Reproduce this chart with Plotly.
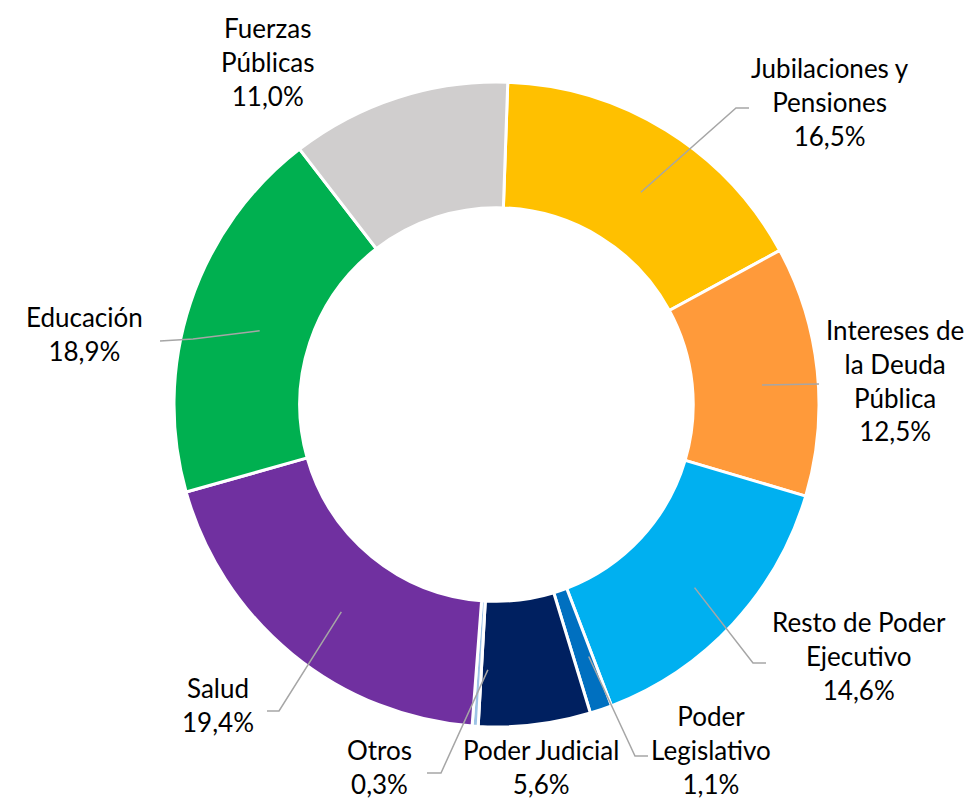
import math
import plotly.graph_objects as go

# ---- data ----
categories = ["Jubilaciones y Pensiones", "Intereses de la Deuda Pública",
              "Resto de Poder Ejecutivo", "Poder Legislativo", "Poder Judicial",
              "Otros", "Salud", "Educación", "Fuerzas Públicas"]
values = [16.5, 12.5, 14.6, 1.1, 5.6, 0.3, 19.4, 18.9, 11.0]
label_text = ["Jubilaciones y<br>Pensiones", "Intereses de<br>la Deuda<br>Pública",
              "Resto de Poder<br>Ejecutivo", "Poder<br>Legislativo", "Poder Judicial",
              "Otros", "Salud", "Educación", "Fuerzas<br>Públicas"]
colors = ["#FFC000", "#FF9A3A", "#00B0F0", "#0070C0", "#002060",
          "#9DC3E6", "#7030A0", "#00B050", "#D0CECE"]

# ---- layout geometry (pixels) ----
W, H = 977, 798
CX, CY, R = 497, 404, 321          # desired drawn centre / radius
DCX, DCY, DR = 488.5, 396.5, 322.5 # domain box that plotly renders at CX, CY, R
HOLE = 0.61
ROT = 2
FONT = dict(family="Lato", size=26, color="black")
TEXT_DY = -8                       # plotly multi-line text offset fixes
TEXT_DX = -7

# label placement: (text centre x, text centre y, elbow (x,y) or None, end (x,y) or None)
label_pos = [
    (829, 102, (728, 100), (741, 100)),
    (894, 380, None, (811, 376)),
    (858, 656, (745, 655), (758, 655)),
    (710, 750, (627, 748), (640, 748)),
    (540, 767, None, None),
    (378, 767, (433, 765), (419, 765)),
    (217, 705, (271, 703), (259, 703)),
    (83, 334, (185, 331), (152, 333)),
    (267, 62, None, None),
]

def px(x):
    return x / W

def py(y):
    return 1 - y / H

fig = go.Figure(go.Pie(
    labels=categories, values=values, sort=False, direction="clockwise",
    rotation=ROT, hole=HOLE, textinfo="none", hoverinfo="label+percent",
    marker=dict(colors=colors, line=dict(color="white", width=3)),
    domain=dict(x=[px(DCX - DR), px(DCX + DR)], y=[py(DCY + DR), py(DCY - DR)]),
    showlegend=False,
))

total = sum(values)
cum = 0.0
shapes = []
annotations = []
rmid = R * (1 + HOLE) / 2
for i, v in enumerate(values):
    mid = ROT + (cum + v / 2) / total * 360
    cum += v
    tx, ty, elbow, end = label_pos[i]
    pct = f"{v:.1f}".replace(".", ",") + "%"
    annotations.append(dict(
        x=px(tx + TEXT_DX), y=py(ty + TEXT_DY), xref="paper", yref="paper",
        text=f"{label_text[i]}<br>{pct}", showarrow=False,
        xanchor="center", yanchor="middle", align="center",
        font=FONT,
    ))
    if end is not None:
        a = math.radians(mid)
        sx = CX + rmid * math.sin(a)
        sy = CY - rmid * math.cos(a)
        pts = [(sx, sy)]
        if elbow is not None:
            pts.append(elbow)
        pts.append(end)
        path = "M " + " L ".join(f"{px(x):.5f},{py(y):.5f}" for x, y in pts)
        shapes.append(dict(type="path", path=path, xref="paper", yref="paper",
                           line=dict(color="#A6A6A6", width=1.5)))

fig.update_layout(
    width=W, height=H, margin=dict(l=0, r=0, t=0, b=0),
    paper_bgcolor="white", plot_bgcolor="white",
    shapes=shapes, annotations=annotations,
    font=dict(family="Lato"),
)
fig.write_html("out.html")
